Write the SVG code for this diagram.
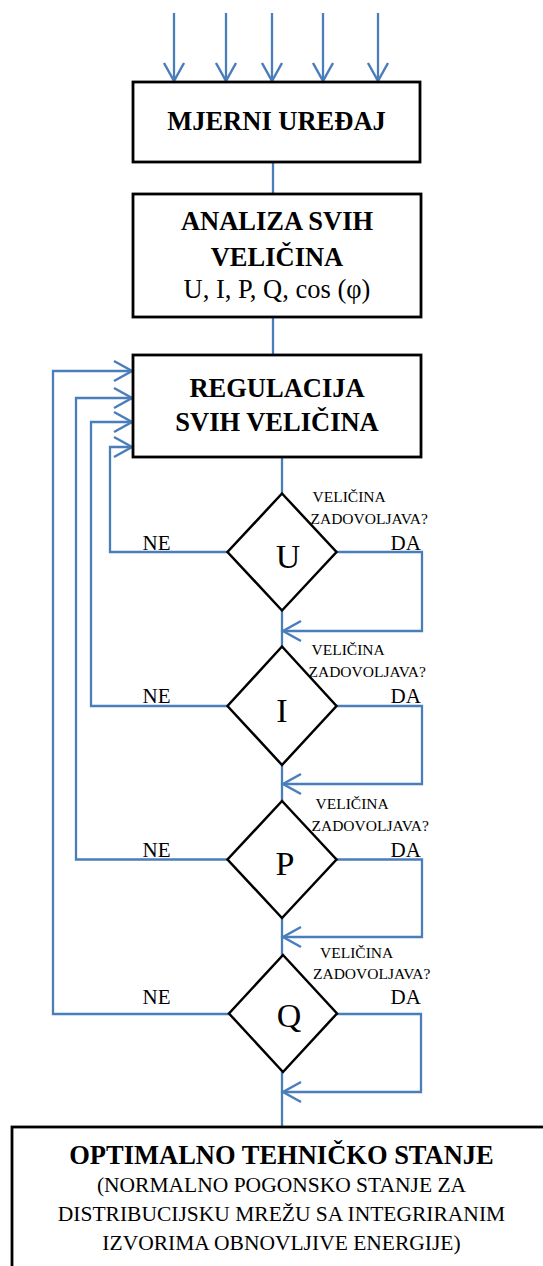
<svg xmlns="http://www.w3.org/2000/svg" width="543" height="1266" viewBox="0 0 543 1266">
<style>
  .box{fill:#fff;stroke:#000;stroke-width:2.8}
  .dia{fill:#fff;stroke:#000;stroke-width:2.5}
  .ln{fill:none;stroke:#4A7EBB;stroke-width:2.3}
  .t{font-family:"Liberation Serif","Times New Roman",serif;fill:#000}
  .b{font-weight:bold;font-size:26.5px;text-anchor:middle}
  .r{font-size:26.5px;text-anchor:middle}
  .q{font-size:15.5px}
  .lab{font-size:21px}
  .big{font-size:34px;text-anchor:middle}
  .small{font-size:21.5px;text-anchor:middle}
</style>
<defs>
  <marker id="ah" markerUnits="userSpaceOnUse" markerWidth="24" markerHeight="26" viewBox="-3 -3 24 26" refX="18" refY="10" orient="auto">
    <path d="M0,0 L18,10 L0,20" fill="none" stroke="#4A7EBB" stroke-width="2.5"/>
  </marker>
</defs>

<g id="connectors">
  <line class="ln" x1="174" y1="13" x2="174" y2="81" marker-end="url(#ah)"/>
  <line class="ln" x1="226" y1="13" x2="226" y2="81" marker-end="url(#ah)"/>
  <line class="ln" x1="272" y1="13" x2="272" y2="81" marker-end="url(#ah)"/>
  <line class="ln" x1="323" y1="13" x2="323" y2="81" marker-end="url(#ah)"/>
  <line class="ln" x1="378" y1="13" x2="378" y2="81" marker-end="url(#ah)"/>
  <line class="ln" x1="273" y1="162" x2="273" y2="194"/>
  <line class="ln" x1="273" y1="317" x2="273" y2="355"/>
  <line class="ln" x1="282" y1="457" x2="282" y2="1127"/>
  <polyline class="ln" points="227,552 110,552 110,447 132,447" marker-end="url(#ah)"/>
  <polyline class="ln" points="227,706 91,706 91,422 132,422" marker-end="url(#ah)"/>
  <polyline class="ln" points="227,859.5 76,859.5 76,398 132,398" marker-end="url(#ah)"/>
  <polyline class="ln" points="229,1014 53,1014 53,371 132,371" marker-end="url(#ah)"/>
  <polyline class="ln" points="336,552 422,552 422,631 283,631" marker-end="url(#ah)"/>
  <polyline class="ln" points="336,706 422,706 422,784 283,784" marker-end="url(#ah)"/>
  <polyline class="ln" points="336,859.5 422,859.5 422,937 283,937" marker-end="url(#ah)"/>
  <polyline class="ln" points="337,1014 421,1014 421,1092 283,1092" marker-end="url(#ah)"/>
</g>

<g id="n-mjerni">
  <rect class="box" x="133" y="82" width="287" height="80"/>
  <text class="t b" x="276.5" y="130">MJERNI UREĐAJ</text>
</g>

<g id="n-analiza">
  <rect class="box" x="133" y="194" width="288" height="123"/>
  <text class="t b" x="277" y="230">ANALIZA SVIH</text>
  <text class="t b" x="277" y="266">VELIČINA</text>
  <text class="t r" x="277" y="298">U, I, P, Q, cos (φ)</text>
</g>

<g id="n-regulacija">
  <rect class="box" x="133" y="355" width="288" height="102"/>
  <text class="t b" x="277" y="397">REGULACIJA</text>
  <text class="t b" x="277" y="431">SVIH VELIČINA</text>
</g>

<g id="n-u">
  <polygon class="dia" points="282,493.5 336.5,552 282,610.5 227.5,552"/>
  <text class="t big" x="288" y="568">U</text>
  <text class="t q" x="312.5" y="502">VELIČINA</text>
  <text class="t q" x="310.5" y="523.5">ZADOVOLJAVA?</text>
  <text class="t lab" x="142.5" y="550">NE</text>
  <text class="t lab" x="390.5" y="550">DA</text>
</g>

<g id="n-i">
  <polygon class="dia" points="282,646.5 336.5,706 282,765 227.5,706"/>
  <text class="t big" x="282" y="721.5">I</text>
  <text class="t q" x="311.5" y="655">VELIČINA</text>
  <text class="t q" x="308.5" y="677">ZADOVOLJAVA?</text>
  <text class="t lab" x="142.5" y="703">NE</text>
  <text class="t lab" x="390.5" y="703">DA</text>
</g>

<g id="n-p">
  <polygon class="dia" points="282,801 336.5,859.5 282,918 227.5,859.5"/>
  <text class="t big" x="285" y="875">P</text>
  <text class="t q" x="315.5" y="809">VELIČINA</text>
  <text class="t q" x="311.5" y="831">ZADOVOLJAVA?</text>
  <text class="t lab" x="142.5" y="857">NE</text>
  <text class="t lab" x="390.5" y="857">DA</text>
</g>

<g id="n-q">
  <polygon class="dia" points="283,955 337,1013.5 283,1072 229,1013.5"/>
  <text class="t big" x="289" y="1027">Q</text>
  <text class="t q" x="320" y="957.5">VELIČINA</text>
  <text class="t q" x="313" y="978.5">ZADOVOLJAVA?</text>
  <text class="t lab" x="142.5" y="1004">NE</text>
  <text class="t lab" x="390.5" y="1004">DA</text>
</g>

<g id="n-optimalno">
  <rect class="box" x="12" y="1127" width="545" height="160"/>
  <text class="t b" x="281.5" y="1163.5">OPTIMALNO TEHNIČKO STANJE</text>
  <text class="t small" x="281.5" y="1192">(NORMALNO POGONSKO STANJE ZA</text>
  <text class="t small" x="281.5" y="1221">DISTRIBUCIJSKU MREŽU SA INTEGRIRANIM</text>
  <text class="t small" x="281.5" y="1249.5">IZVORIMA OBNOVLJIVE ENERGIJE)</text>
</g>
</svg>
